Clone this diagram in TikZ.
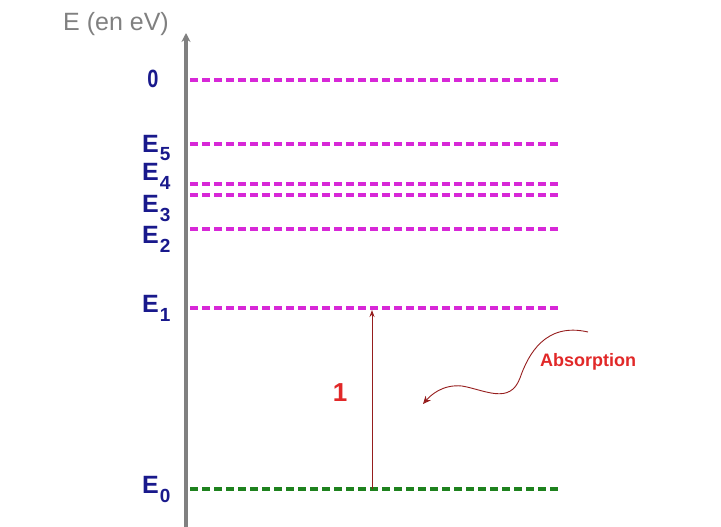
\documentclass[tikz,border=0pt]{standalone}
\usepackage{fontspec}
\setmainfont{Liberation Sans}
\usetikzlibrary{arrows.meta}
\definecolor{lvl}{RGB}{215,40,215}
\definecolor{grn}{RGB}{30,130,30}
\definecolor{navy}{RGB}{25,25,140}
\definecolor{axg}{RGB}{128,128,128}
\definecolor{dred}{RGB}{150,30,30}
\definecolor{lred}{RGB}{225,40,40}
\newcommand{\lvsub}[1]{\hspace{1pt}\raisebox{-9pt}{\fontsize{19}{19}\selectfont #1}}
\tikzset{
  level/.style={line width=4pt, dash pattern=on 8pt off 4pt, lvl},
  glevel/.style={line width=4pt, dash pattern=on 8pt off 4pt, grn},
  elab/.style={navy, font=\bfseries\fontsize{25}{27}\selectfont, anchor=base west, inner sep=0pt}
}
\begin{document}
\begin{tikzpicture}[x=1pt,y=-1pt]
\useasboundingbox (0,0) rectangle (721,527);
% axis
\coordinate (axb) at (186,527);
\coordinate (axt) at (186,33);
\draw[axg, line width=3.5pt, -{Stealth[length=9pt,width=9pt]}] (axb) -- (axt);
\node[axg, font=\fontsize{25}{27}\selectfont, inner sep=0pt, anchor=base] (title) at (116,31) {E (en eV)};
% levels
\foreach \n/\y in {L0/80, L5/144, L4/184, L3/195, L2/229, L1/308}{
  \coordinate (\n a) at (190,\y);
  \coordinate (\n b) at (560,\y);
  \draw[level] (\n a) -- (\n b);
}
\coordinate (G0a) at (190,489);
\coordinate (G0b) at (560,489);
\draw[glevel] (G0a) -- (G0b);
% labels
\node[navy, font=\bfseries\fontsize{25}{27}\selectfont, inner sep=0pt, xscale=0.8] (t0) at (153,79) {0};
\node[elab] (t5) at (142,152) {E\lvsub{5}};
\node[elab] (t4) at (142,180) {E\lvsub{4}};
\node[elab] (t3) at (142,212) {E\lvsub{3}};
\node[elab] (t2) at (142,243) {E\lvsub{2}};
\node[elab] (t1) at (142,312) {E\lvsub{1}};
\node[elab] (te) at (142,493) {E\lvsub{0}};
% transition
\coordinate (tb) at (372,489);
\coordinate (tt) at (372,310);
\draw[dred, line width=1pt, -{Stealth[length=7pt,width=5pt]}] (tb) -- (tt);
\node[lred, font=\bfseries\fontsize{26}{28}\selectfont, inner sep=0pt] (one) at (340,393) {1};
\node[lred, font=\bfseries\fontsize{18}{20}\selectfont, inner sep=0pt] (abs) at (588,362) {Absorption};
\coordinate (ws) at (588,332);
\coordinate (we) at (423,404);
\draw[dred, line width=0.9pt, -{Stealth[length=8pt,width=7pt]}] (ws) .. controls (545,322) and (528,355) .. (520,378) .. controls (510,405) and (485,390) .. (462,386) .. controls (442,384) and (430,396) .. (we);
\end{tikzpicture}
\end{document}
